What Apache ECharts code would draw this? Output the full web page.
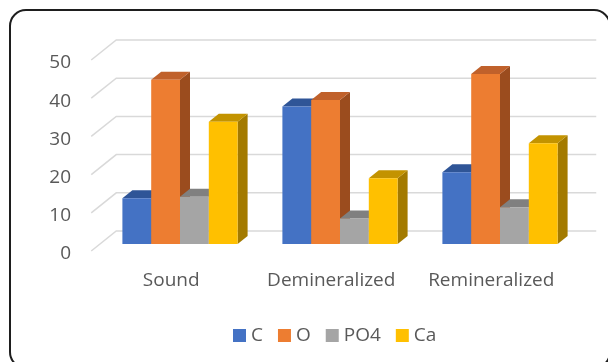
<!DOCTYPE html>
<html>
<head>
<meta charset="utf-8">
<script src="https://cdn.jsdelivr.net/npm/echarts@6/dist/echarts.min.js"></script>
<style>
  html, body { margin: 0; padding: 0; background: #fff; }
  #chart { width: 608px; height: 362px; }
</style>
</head>
<body>
<div id="chart"></div>
<script>
// Elemental composition per enamel condition
const categories = ['Sound', 'Demineralized', 'Remineralized'];
const seriesNames = ['C', 'O', 'PO4', 'Ca'];
const valuesC = [12, 36, 18.8];
const valuesO = [43, 37.7, 44.5];
const valuesPO4 = [12.4, 6.7, 9.6];
const valuesCa = [32, 17.2, 26.4];
const yTicks = [0, 10, 20, 30, 40, 50];

// Face colours for the extruded bars: front, top, right side
const palette = [
  { front: '#4472C4', top: '#2F5597', side: '#2B4F8C' },
  { front: '#ED7D31', top: '#C0612B', side: '#9B4C1E' },
  { front: '#A5A5A5', top: '#808080', side: '#737373' },
  { front: '#FFC000', top: '#C39300', side: '#A37A00' }
];

// Pseudo-3D geometry (pixels)
const BAR_DX = 10, BAR_DY = 8;          // bar depth
const FRONT_DX = 8.75, FRONT_DY = 7;    // from bar plane to front edge of floor
const BACK_DX = 16.25, BACK_DY = 13;    // from bar plane to back wall
const GROUP_FRAC = 0.72;                // share of category band filled by bars

const FONT = "'Open Sans', 'Noto Sans', sans-serif";
const TEXT = '#595959';

function barRenderer(slot, colors) {
  return function (params, api) {
    const idx = api.value(0);
    const v = api.value(1);
    const base = api.coord([idx, 0]);
    const top = api.coord([idx, v]);
    const band = api.size([1, 0])[0];
    const groupW = band * GROUP_FRAC;
    const w = groupW / seriesNames.length;
    const x0 = base[0] - groupW / 2 + slot * w;
    const x1 = x0 + w;
    const yb = base[1], yt = top[1];
    return {
      type: 'group',
      children: [
        { type: 'polygon',
          shape: { points: [[x1, yb], [x1 + BAR_DX, yb - BAR_DY], [x1 + BAR_DX, yt - BAR_DY], [x1, yt]] },
          style: { fill: colors.side } },
        { type: 'polygon',
          shape: { points: [[x0, yt], [x1, yt], [x1 + BAR_DX, yt - BAR_DY], [x0 + BAR_DX, yt - BAR_DY]] },
          style: { fill: colors.top } },
        { type: 'rect',
          shape: { x: x0, y: yt, width: w, height: yb - yt },
          style: { fill: colors.front } }
      ]
    };
  };
}

function gridRenderer(params, api) {
  const y = api.coord([0, api.value(1)])[1];
  const cs = params.coordSys;
  const xl = cs.x, xr = cs.x + cs.width;
  return {
    type: 'polyline',
    shape: { points: [[xl - FRONT_DX, y + FRONT_DY], [xl + BACK_DX, y - BACK_DY], [xr + BACK_DX, y - BACK_DY]] },
    style: { stroke: '#d9d9d9', lineWidth: 1.5, fill: null }
  };
}

const seriesValues = [valuesC, valuesO, valuesPO4, valuesCa];

const series = [{
  type: 'custom',
  name: 'grid',
  z: 1,
  silent: true,
  renderItem: gridRenderer,
  encode: { x: 0, y: 1 },
  data: yTicks.map(v => [0, v])
}];

seriesNames.forEach((name, i) => {
  series.push({
    type: 'custom',
    name: name,
    z: 2,
    renderItem: barRenderer(i, palette[i]),
    itemStyle: { color: palette[i].front },
    encode: { x: 0, y: 1 },
    data: seriesValues[i].map((v, k) => [k, v])
  });
});

const chart = echarts.init(document.getElementById('chart'));
chart.setOption({
  animation: false,
  backgroundColor: '#fff',
  textStyle: { fontFamily: FONT },
  grid: { left: 100, right: 28, top: 53, bottom: 118 },
  xAxis: {
    type: 'category',
    data: categories,
    axisLine: { show: false },
    axisTick: { show: false },
    splitLine: { show: false },
    axisLabel: { interval: 0, fontSize: 19, color: TEXT, fontFamily: FONT, margin: 27, padding: [0, 17.5, 0, 0] }
  },
  yAxis: {
    type: 'value',
    min: 0,
    max: 50,
    interval: 10,
    axisLine: { show: false },
    axisTick: { show: false },
    splitLine: { show: false },
    axisLabel: { fontSize: 19, color: TEXT, fontFamily: FONT, margin: 29, verticalAlign: 'top', lineHeight: 20 }
  },
  legend: {
    data: seriesNames,
    left: 233,
    top: 326,
    padding: 0,
    icon: 'rect',
    itemWidth: 13,
    itemHeight: 13,
    itemGap: 15,
    textStyle: { fontSize: 19, color: TEXT, fontFamily: FONT }
  },
  graphic: [{
    type: 'rect',
    shape: { x: 10, y: 10, width: 600, height: 358, r: 16 },
    style: { fill: null, stroke: '#1e1e1e', lineWidth: 2 },
    silent: true,
    z: 10
  }],
  series: series
});
</script>
</body>
</html>
